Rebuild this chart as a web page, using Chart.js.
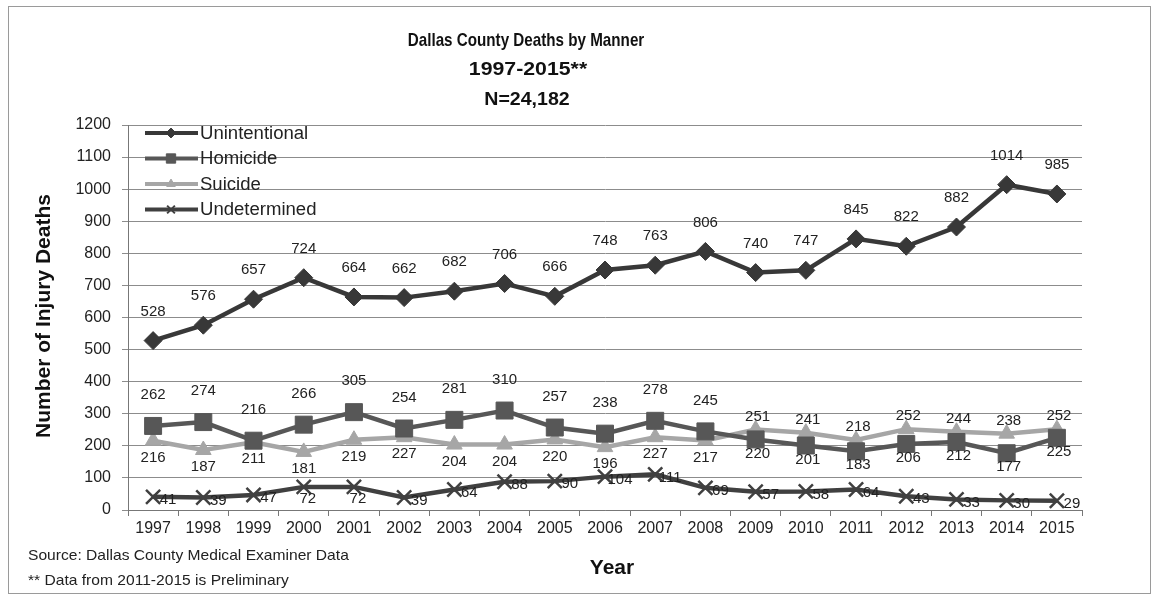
<!DOCTYPE html>
<html>
<head>
<meta charset="utf-8">
<script src="https://cdn.jsdelivr.net/npm/chart.js@4/dist/chart.umd.min.js"></script>
<style>
html,body{margin:0;padding:0;background:#fff;}
canvas{display:block;}
</style>
</head>
<body>
<canvas id="c" width="1160" height="598"></canvas>
<script>
const years = ['1997','1998','1999','2000','2001','2002','2003','2004','2005','2006','2007','2008','2009','2010','2011','2012','2013','2014','2015'];
const unintentional = [528,576,657,724,664,662,682,706,666,748,763,806,740,747,845,822,882,1014,985];
const homicide = [262,274,216,266,305,254,281,310,257,238,278,245,220,201,183,206,212,177,225];
const suicide = [216,187,211,181,219,227,204,204,220,196,227,217,251,241,218,252,244,238,252];
const undetermined = [41,39,47,72,72,39,64,88,90,104,111,69,57,58,64,43,33,30,29];
const yTicks = [0,100,200,300,400,500,600,700,800,900,1000,1100,1200];
const titleLines = ['Dallas County Deaths by Manner','1997-2015**','N=24,182'];
const seriesNames = ['Unintentional','Homicide','Suicide','Undetermined'];

const FONT = '"Liberation Sans", Arial, sans-serif';

const styles = [
  {color:'#383838', point:'rectRot', r:9, bw:1},
  {color:'#575757', point:'rect', r:12, bw:1},
  {color:'#a6a6a6', point:'triangle', r:9, bw:1},
  {color:'#404040', point:'crossRot', r:10, bw:2.5}
];
const dataSets = [unintentional, homicide, suicide, undetermined];

function labelOffset(ds, i){
  const y = +years[i];
  if (ds === 0) return [0, -29];
  if (ds === 1) return y < 2009 ? [0, -31] : [2, 14];
  if (ds === 2) return y < 2009 ? [0, 17] : [2, -13];
  if (y === 2000 || y === 2001) return [4, 12];
  return [15, 3];
}

function scaledText(ctx, text, x, y, sx){
  ctx.save();
  ctx.translate(x, y);
  ctx.scale(sx, 1);
  ctx.fillText(text, 0, 0);
  ctx.restore();
}

const extras = {
  id:'extras',
  beforeDraw(chart){
    const ctx = chart.ctx;
    ctx.save();
    ctx.fillStyle = '#fff';
    ctx.fillRect(0,0,chart.width,chart.height);
    ctx.strokeStyle = '#9a9a9a';
    ctx.lineWidth = 1;
    ctx.strokeRect(8.5,6.5,1142,587);
    ctx.restore();
  },
  afterDraw(chart){
    const ctx = chart.ctx;
    ctx.save();
    // title
    ctx.fillStyle = '#111';
    ctx.textAlign = 'center';
    ctx.textBaseline = 'middle';
    ctx.font = 'bold 19px ' + FONT;
    scaledText(ctx, titleLines[0], 526, 41, 0.8);
    scaledText(ctx, titleLines[1], 528, 70, 1.12);
    scaledText(ctx, titleLines[2], 527, 100, 1.03);
    // axis titles
    ctx.font = 'bold 20px ' + FONT;
    scaledText(ctx, 'Year', 612, 568, 1.05);
    ctx.save();
    ctx.translate(44, 316);
    ctx.rotate(-Math.PI/2);
    ctx.font = 'bold 21px ' + FONT;
    ctx.fillText('Number of Injury Deaths', 0, 0);
    ctx.restore();
    // source notes
    ctx.textAlign = 'left';
    ctx.font = '15px ' + FONT;
    ctx.fillStyle = '#222';
    scaledText(ctx, 'Source: Dallas County Medical Examiner Data', 28, 556, 1.04);
    scaledText(ctx, '** Data from 2011-2015 is Preliminary', 28, 581, 1.04);
    // legend
    seriesNames.forEach((n,k)=>{
      const st = styles[k];
      const yy = 133 + k*25.5;
      ctx.strokeStyle = st.color;
      ctx.lineWidth = 4;
      ctx.beginPath(); ctx.moveTo(145,yy); ctx.lineTo(198,yy); ctx.stroke();
      ctx.fillStyle = st.color;
      ctx.lineWidth = st.point === 'crossRot' ? 2 : 1;
      Chart.helpers.drawPoint(ctx, {pointStyle: st.point, radius: st.r*0.55, borderWidth: ctx.lineWidth, rotation:0}, 171, yy);
      ctx.fillStyle = '#222';
      ctx.font = '18px ' + FONT;
      ctx.textAlign = 'left';
      scaledText(ctx, n, 200, yy+1, 1.03);
    });
    ctx.restore();
  },
  afterDatasetsDraw(chart){
    const ctx = chart.ctx;
    ctx.save();
    ctx.fillStyle = '#222';
    ctx.font = '15px ' + FONT;
    ctx.textAlign = 'center';
    ctx.textBaseline = 'middle';
    chart.data.datasets.forEach((d,ds)=>{
      const meta = chart.getDatasetMeta(ds);
      meta.data.forEach((el,i)=>{
        const [dx,dy] = labelOffset(ds,i);
        ctx.fillText(String(d.data[i]), el.x+dx, el.y+dy);
      });
    });
    ctx.restore();
  }
};

new Chart(document.getElementById('c'), {
  type:'line',
  data:{
    labels: years,
    datasets: dataSets.map((arr,k)=>({
      label: seriesNames[k],
      data: arr,
      borderColor: styles[k].color,
      backgroundColor: styles[k].color,
      pointBackgroundColor: styles[k].color,
      pointBorderColor: styles[k].color,
      pointStyle: styles[k].point,
      pointRadius: styles[k].r,
      pointBorderWidth: styles[k].bw,
      borderWidth: 4.5,
      tension: 0,
      fill: false
    }))
  },
  options:{
    responsive:false,
    animation:false,
    devicePixelRatio:1,
    layout:{padding:{left:0, top:125, right:78, bottom:58}},
    plugins:{legend:{display:false}, title:{display:false}, tooltip:{enabled:false}},
    scales:{
      x:{
        type:'category',
        offset:true,
        grid:{offset:true, drawOnChartArea:false, tickLength:6, color:'#777'},
        border:{color:'#777'},
        ticks:{font:{family:FONT, size:16}, color:'#222', padding:3, maxRotation:0, autoSkip:false},
        afterFit(s){ s.height = 30; }
      },
      y:{
        min:0, max:1200,
        afterBuildTicks(s){ s.ticks = yTicks.map(v=>({value:v})); },
        grid:{color:'#8c8c8c', tickLength:6},
        border:{color:'#777'},
        ticks:{font:{family:FONT, size:16}, color:'#222', padding:11, callback:(v)=>String(v)},
        afterFit(s){ s.width = 128; }
      }
    }
  },
  plugins:[extras]
});
</script>
</body>
</html>
